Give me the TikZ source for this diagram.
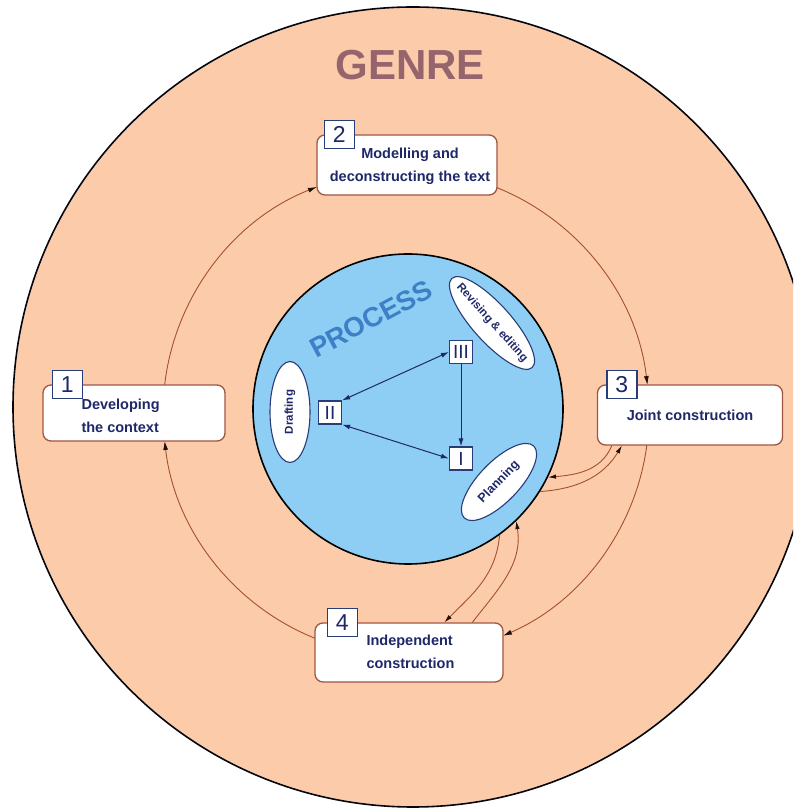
\documentclass[tikz,border=0pt]{standalone}
\usepackage{fontspec}
\setmainfont{Liberation Sans}
\usetikzlibrary{calc,shapes.geometric,arrows.meta}
\definecolor{peach}{RGB}{252,204,170}
\definecolor{skyfill}{RGB}{142,206,244}
\definecolor{navy}{RGB}{30,40,105}
\definecolor{boxedge}{RGB}{160,85,65}
\definecolor{cyccol}{RGB}{165,80,45}
\definecolor{genrecol}{RGB}{150,100,108}
\definecolor{proccol}{RGB}{62,128,200}
\definecolor{sqedge}{RGB}{40,60,120}
\begin{document}
\begin{tikzpicture}[x=1pt,y=1pt,
  stagebox/.style={draw=boxedge, line width=1.3pt, fill=white, rounded corners=8pt, inner sep=0pt},
  numbox/.style={draw=sqedge, line width=1.3pt, fill=white, minimum width=30pt, minimum height=28pt, inner sep=0pt, font=\fontsize{23}{23}\selectfont, text=navy},
  romanbox/.style={draw=sqedge, line width=1.2pt, fill=white, minimum width=23pt, minimum height=23pt, inner sep=0pt, font=\fontsize{19}{19}\selectfont, text=navy},
  stagetext/.style={font=\fontsize{14.5}{23}\selectfont\bfseries, text=navy, inner sep=0pt},
  oval/.style={ellipse, draw=sqedge, line width=1.1pt, fill=white, inner sep=0pt, text=navy, font=\fontsize{11.5}{12}\selectfont\bfseries},
  cycarrow/.style={draw=cyccol, line width=0.9pt, -{Latex[length=9pt,width=5pt,color=black!80!cyccol]}},
  linkarrow/.style={draw=cyccol, line width=0.9pt, -{Latex[length=8pt,width=4.5pt,color=black!80!cyccol]}},
  innerarrow/.style={draw=navy, line width=1pt},
  tipR/.style={-{Latex[length=8pt,width=5pt]}},
  tipB/.style={{Latex[length=8pt,width=5pt]}-{Latex[length=8pt,width=5pt]}}
]
\path[use as bounding box] (0,0) rectangle (793,811);
\clip (0,0) rectangle (793,811);
\fill[white] (0,0) rectangle (793,811);

% outer genre circle
\node[circle, draw=black!85!navy, line width=1.6pt, fill=peach, minimum size=800pt, inner sep=0pt] (genrecircle) at (413,404) {};
\node[font=\fontsize{42}{42}\selectfont\bfseries, text=genrecol] (genre) at (410,746) {GENRE};

% middle cycle
\coordinate (mc) at (406,398);
\coordinate (m1) at ($(mc)+(173.4:243)$);
\coordinate (m2) at ($(mc)+(68:243)$);
\coordinate (m3) at ($(mc)+(-7.6:243)$);
\coordinate (m4) at ($(mc)+(-112:243)$);
\draw[cycarrow] (m1) arc[start angle=173.4, end angle=111.5, radius=243];
\draw[cycarrow] (m2) arc[start angle=68, end angle=6.6, radius=243];
\draw[cycarrow] (m3) arc[start angle=-7.6, end angle=-66.5, radius=243];
\draw[cycarrow] (m4) arc[start angle=-112, end angle=-173.4, radius=243];

% inner process circle
\node[circle, draw=black, line width=1.6pt, fill=skyfill, minimum size=310pt, inner sep=0pt] (proccircle) at (408,402) {};
\node[rotate=28, font=\fontsize{27.5}{27.5}\selectfont\bfseries, text=proccol] (process) at (371,492) {PROCESS};

% ovals
\node[oval, rotate=90, minimum width=101pt, minimum height=40pt] (draft) at (290,399) {\makebox[0pt]{Drafting}};
\node[oval, rotate=-48, minimum width=120pt, minimum height=38pt] (revise) at (492,488) {\makebox[0pt]{Revising \& editing}};
\node[oval, rotate=46, minimum width=100pt, minimum height=40pt, font=\fontsize{12.5}{13}\selectfont\bfseries] (plan) at (499,329) {\makebox[0pt]{Planning}};

% roman numeral boxes
\node[romanbox] (r3) at (461,459) {III};
\node[romanbox] (r2) at (330,398.5) {II};
\node[romanbox] (r1) at (461,352.5) {I};
\draw[innerarrow, tipB] (r3.west) -- (r2.north east);
\draw[innerarrow, tipB] (r2.south east) -- (r1.west);
\draw[innerarrow, tipR] (r3.south) -- (r1.north);

% stage boxes
\node[stagebox, minimum width=182pt, minimum height=56pt] (b1) at (134,398) {};
\node[stagebox, minimum width=180pt, minimum height=60pt] (b2) at (407,646) {};
\node[stagebox, minimum width=185pt, minimum height=60pt] (b3) at (690,396) {};
\node[stagebox, minimum width=188pt, minimum height=59pt] (b4) at (409,158.5) {};

% links between planning and boxes 3 and 4
\coordinate (b3a) at ($(b3.south west)+(15,0)$);
\coordinate (b3b) at ($(b3.south west)+(25,0)$);
\coordinate (b4a) at ($(b4.north west)+(158,0)$);
\coordinate (b4b) at ($(b4.north west)+(130,0)$);
\draw[linkarrow] (b3a) to[out=-113, in=5] (proccircle.-26.7);
\draw[linkarrow] (proccircle.-32.9) to[out=4, in=-121] (b3b);
\draw[linkarrow] (b4a) to[out=52, in=-81] (proccircle.-46.6);
\draw[linkarrow] (proccircle.-54) to[out=-95, in=45] (b4b);

% texts
\node[stagetext, anchor=west, align=left] (t1) at ($(b1.west)+(39,-2.5)$) {Developing\\the context};
\node[stagetext, align=center] (t2) at ($(b2.center)+(3,-1.5)$) {Modelling and\\deconstructing the text};
\node[stagetext] (t3) at (b3.center) {Joint construction};
\node[stagetext, anchor=west, align=left] (t4) at ($(b4.west)+(52,1)$) {Independent\\construction};

% number squares
\node[numbox] (n1) at ($(b1.north west)+(25,0)$) {1};
\node[numbox] (n2) at ($(b2.north west)+(23,0)$) {2};
\node[numbox] (n3) at ($(b3.north west)+(25,0)$) {3};
\node[numbox] (n4) at ($(b4.north west)+(28,0)$) {4};
\end{tikzpicture}
\end{document}
